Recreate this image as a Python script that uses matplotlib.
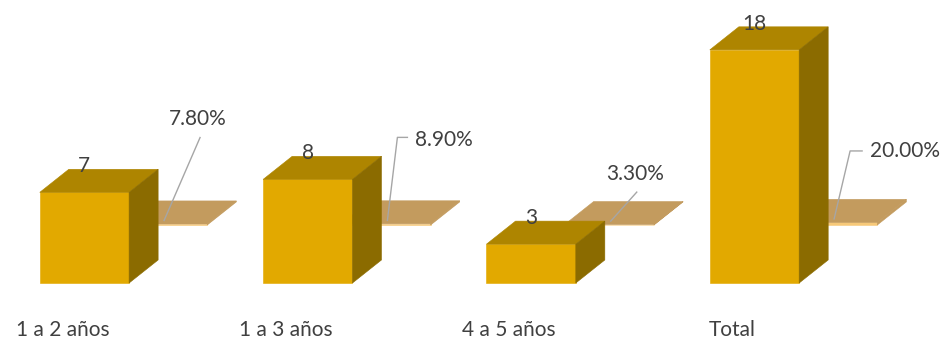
"""3D-style column chart: counts per seniority band with their share shown
as a flat back-row plate."""

import matplotlib.pyplot as plt
from matplotlib.patches import Polygon
from matplotlib.lines import Line2D

# --- data ---
categories = ["1 a 2 años", "1 a 3 años", "4 a 5 años", "Total"]
counts = [7, 8, 3, 18]
shares = [0.078, 0.089, 0.033, 0.200]
share_labels = ["7.80%", "8.90%", "3.30%", "20.00%"]

# --- style ---
FRONT = "#E2A900"
TOP = "#AE8500"
SIDE = "#8B6B00"
PLATE = "#C39B5E"
PLATE_EDGE = "#F7C979"
TEXT = "#404040"
LEADER = "#A6A6A6"
FONT = "Lato"
FS = 15

W = 0.40            # box width (category units)
DX, DY = 0.13, 1.78  # box depth as drawn
RX, RY = 0.35, 4.48  # shift of the back row (shares)

# label placement for the share labels, pixels from the leader anchor
# (text left/center-y offset, leader path)
share_text = [(5, -102), (28, -80), (-5, -47), (36, -68)]
share_path = [
    [(0, 0), (36, -83)],
    [(0, 0), (10, -83), (20, -83)],
    [(0, 0), (26, -29)],
    [(0, 0), (16, -68), (28, -68)],
]

fig = plt.figure(figsize=(9.45, 3.43), dpi=100)
ax = fig.add_axes([0, 0, 1, 1])
ax.set_xlim(-0.378, 3.853)
ax.set_ylim(-4.63, 21.85)
ax.axis("off")


def box(x0, y0, h, front, top, side, z):
    x1 = x0 + W
    faces = [
        ([(x0, y0), (x1, y0), (x1, y0 + h), (x0, y0 + h)], front),
        ([(x0, y0 + h), (x1, y0 + h), (x1 + DX, y0 + h + DY), (x0 + DX, y0 + h + DY)], top),
        ([(x1, y0), (x1 + DX, y0 + DY), (x1 + DX, y0 + h + DY), (x1, y0 + h)], side),
    ]
    for verts, color in faces:
        ax.add_patch(Polygon(verts, closed=True, facecolor=color,
                             edgecolor=color, lw=0.4, zorder=z))


# back row: shares, same value axis so they come out nearly flat
for i, s in enumerate(shares):
    box(i - W / 2 + RX, RY, s, PLATE_EDGE, PLATE, PLATE, 1)

# front row: counts
for i, c in enumerate(counts):
    box(i - W / 2, 0, c, FRONT, TOP, SIDE, 3)
    ax.annotate(str(c), xy=(i, c + DY), xytext=(0, 3), textcoords="offset pixels",
                ha="center", va="center", fontsize=FS, color=TEXT,
                family=FONT, zorder=5)
    ax.annotate(categories[i], xy=(i, 0), xytext=(-22, -47),
                textcoords="offset pixels", ha="center", va="center",
                fontsize=FS, color=TEXT, family=FONT)

# share labels with leader lines
fig.canvas.draw()
for i, s in enumerate(shares):
    ax_x = i - W / 2 + RX + W / 2 + DX * 0.05
    ax_y = RY + s + DY * 0.15
    px, py = ax.transData.transform((ax_x, ax_y))
    xs = [px + dx for dx, dy in share_path[i]]
    ys = [py - dy for dx, dy in share_path[i]]
    fig.add_artist(Line2D(xs, ys, color=LEADER, lw=1.0, transform=None, zorder=2))
    tx, ty = share_text[i]
    fig.text(px + tx, py - ty, share_labels[i], transform=None,
             ha="left", va="center", fontsize=FS, color=TEXT, family=FONT)

fig.savefig("out.png", dpi=100, facecolor="white")
